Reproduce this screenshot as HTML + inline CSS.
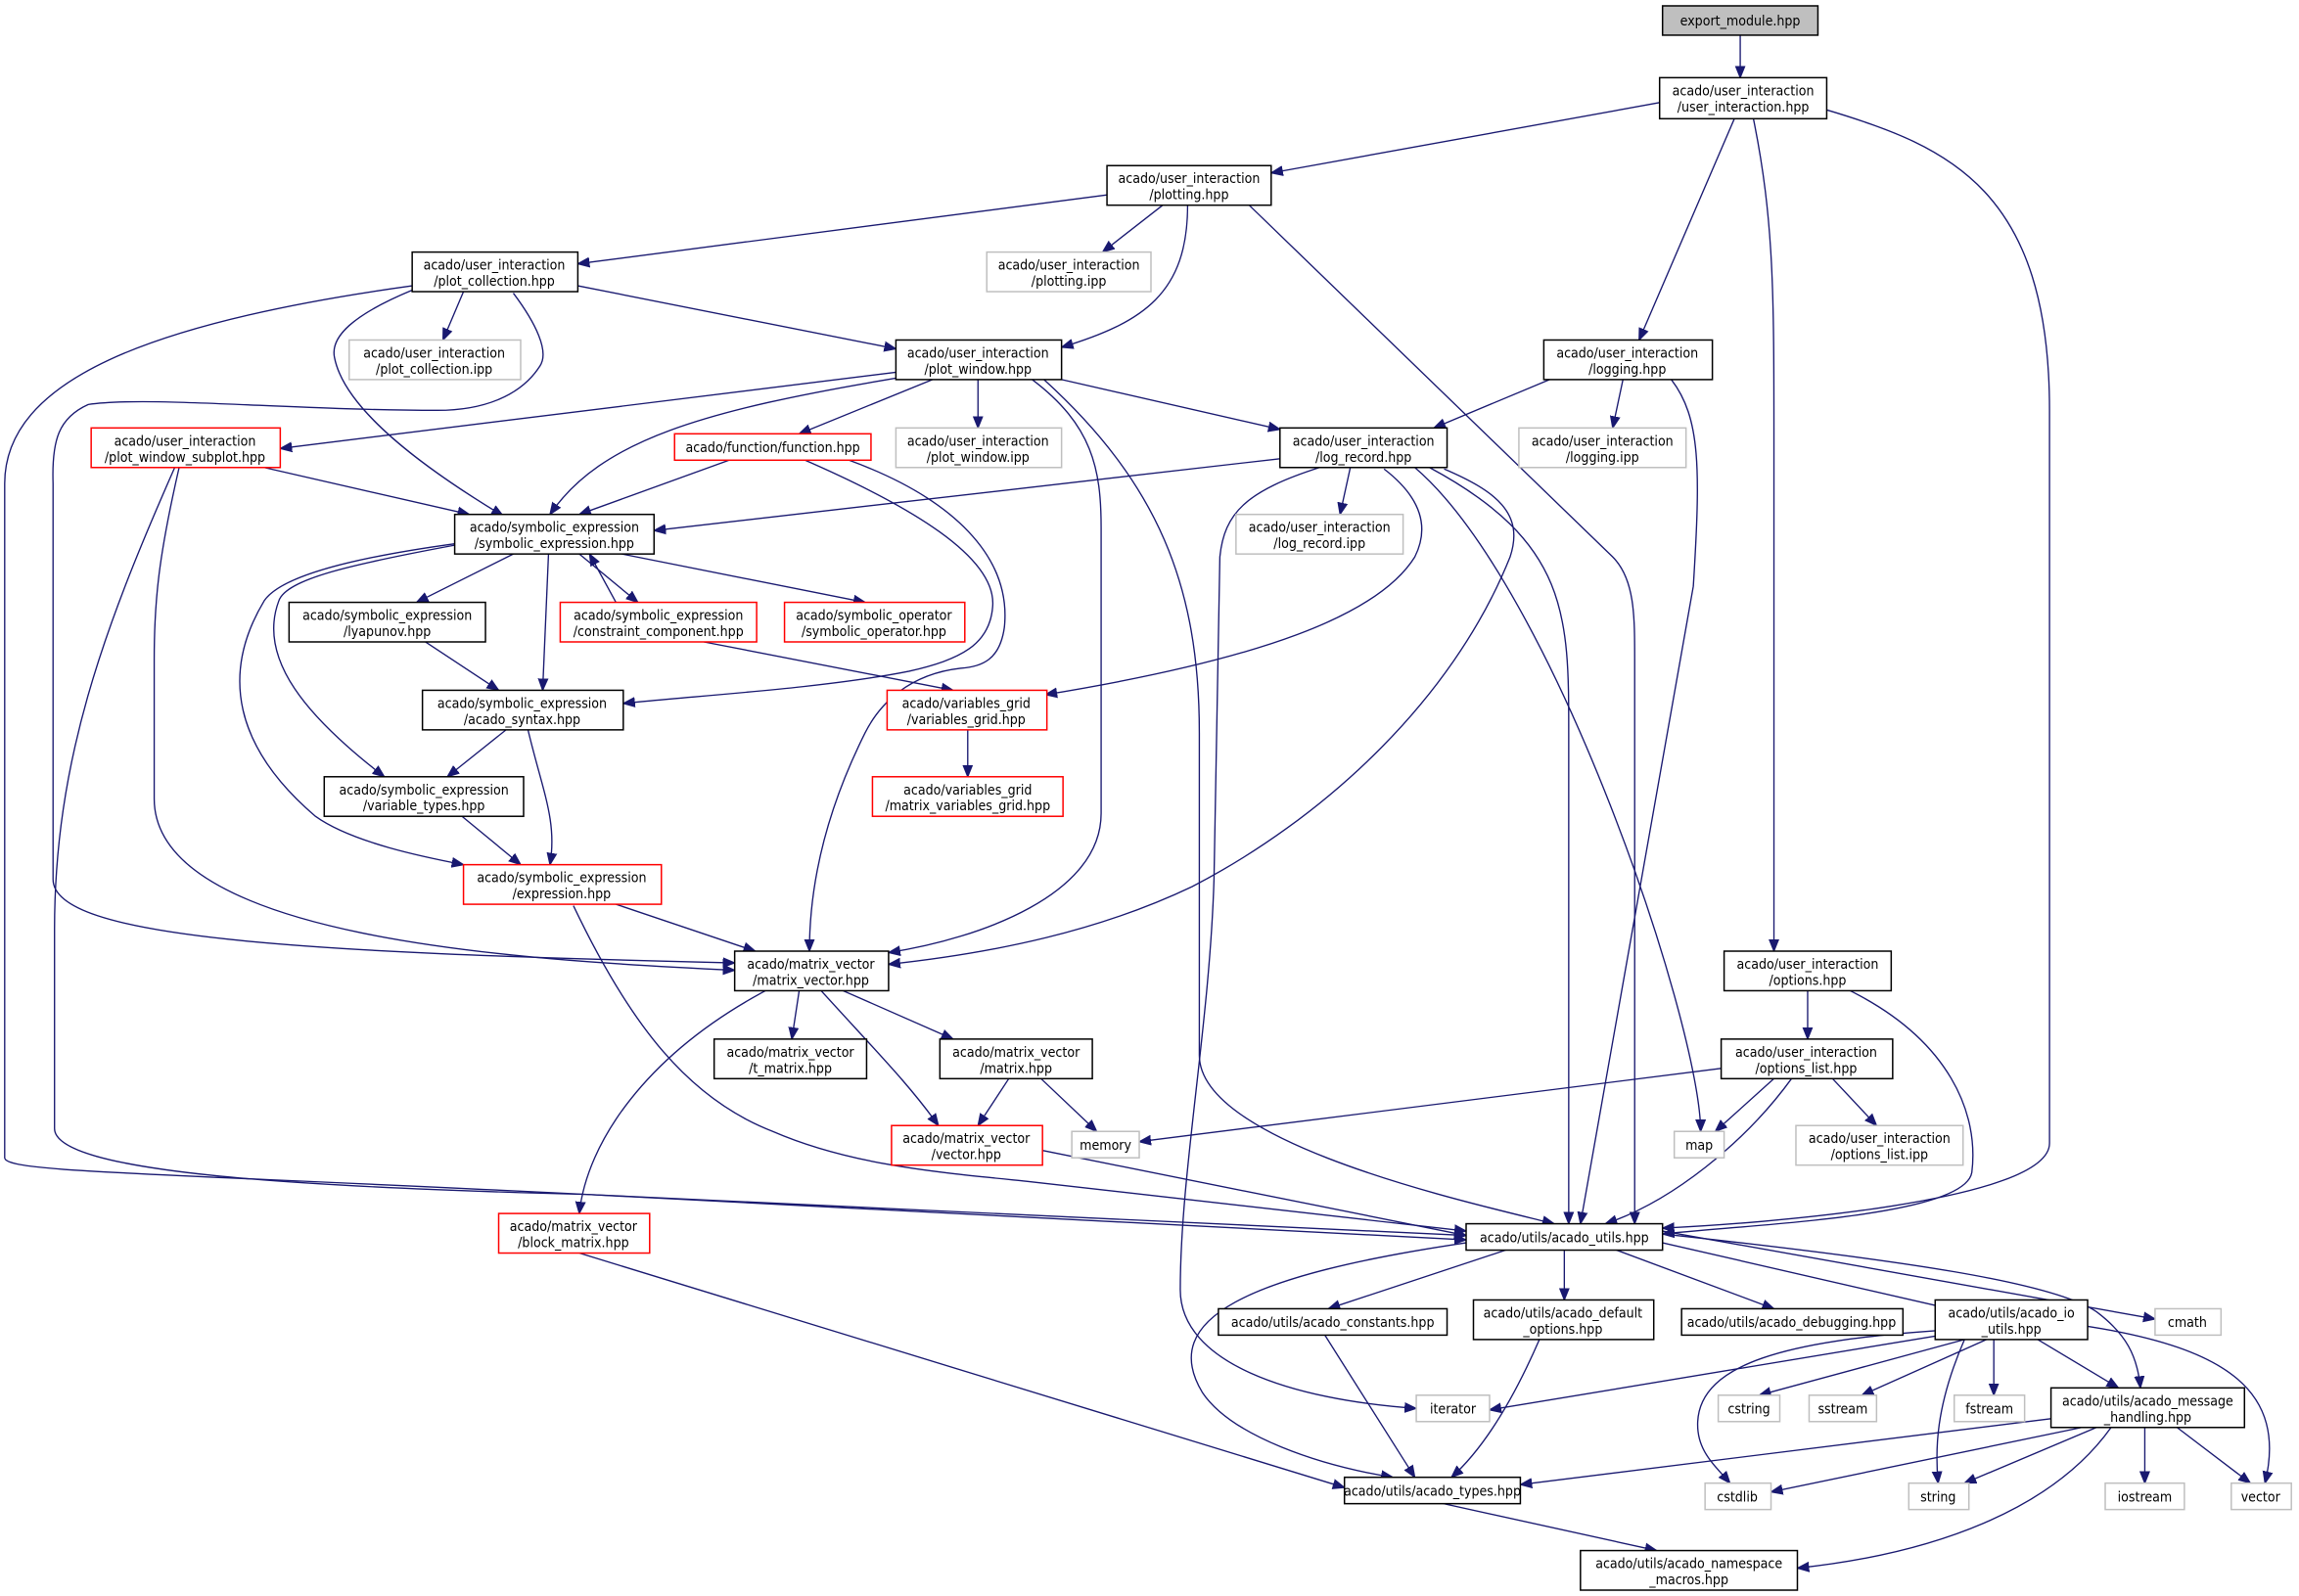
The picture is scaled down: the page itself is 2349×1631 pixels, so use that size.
<!DOCTYPE html>
<html><head><meta charset="utf-8"><style>
html,body{margin:0;padding:0;background:#fff;}
svg{display:block;}
text{font-family:"DejaVu Sans Condensed","DejaVu Sans","Liberation Sans",sans-serif;font-size:9.4px;text-anchor:middle;fill:#000;}
.n rect{fill:#fff;stroke:#000;stroke-width:1;}
.g rect{fill:#fff;stroke:#bfbfbf;stroke-width:1;}
.r rect{fill:#fff;stroke:#ff0000;stroke-width:1;}
.e path{fill:none;stroke:#191970;stroke-width:0.9;marker-end:url(#a);}
</style></head><body>
<svg width="2349" height="1631" viewBox="0 0 1568 1089" xmlns="http://www.w3.org/2000/svg">
<defs><marker id="a" viewBox="0 0 10 10" refX="10" refY="5" markerWidth="8" markerHeight="8" markerUnits="userSpaceOnUse" orient="auto"><path d="M0,1 L10,5 L0,9 z" fill="#191970" stroke="#191970"/></marker></defs>
<g class="e">
<path d="M1187,24 L1187,53"/>
<path d="M1132,70 L867,118"/>
<path d="M1183,81 L1118,232"/>
<path d="M1196,81 C1210,150 1210,200 1210,300 L1210,649"/>
<path d="M1246,75 C1330,100 1398,130 1398,280 L1398,780 C1398,820 1200,835 1134,838"/>
<path d="M755,133 L394,180"/>
<path d="M793,140 L752,172"/>
<path d="M810,140 C810,200 780,220 724,237"/>
<path d="M852,140 L1100,380 C1115,395 1115,420 1115,450 L1115,835"/>
<path d="M316,199 L302,232"/>
<path d="M394,195 L611,238"/>
<path d="M281,198 C240,215 225,230 228,244 C235,280 290,320 343,352"/>
<path d="M350,200 C365,220 375,240 368,250 C355,270 330,280 298,280 C200,280 100,270 60,276 C40,285 35,300 36,330 L36,600 C36,640 200,650 501,657"/>
<path d="M281,195 C100,220 3,260 3,330 L3,790 C3,800 100,800 400,815 L1000,843"/>
<path d="M611,254 L191,306"/>
<path d="M611,258 C480,280 410,300 375,351"/>
<path d="M636,259 L545,296"/>
<path d="M667,259 L667,292"/>
<path d="M724,259 L873,293"/>
<path d="M704,259 C745,290 751,320 751,360 L751,555 C751,610 670,640 606,650"/>
<path d="M712,259 C790,330 818,400 818,500 L818,720 C818,780 1000,820 1060,835"/>
<path d="M1057,259 L978,292"/>
<path d="M1107,259 L1100,292"/>
<path d="M1140,259 C1160,285 1160,320 1155,400 L1078,835"/>
<path d="M180,319 L320,351"/>
<path d="M122,319 C108,380 105,410 105,450 L105,545 C105,640 350,655 501,662"/>
<path d="M119,319 C70,430 37,520 37,634 L37,770 C37,800 200,810 400,815 L1000,846"/>
<path d="M500,313 L395,351"/>
<path d="M549,314 C620,345 680,380 677,414 C675,440 655,450 620,458 C560,470 470,475 425,480"/>
<path d="M579,314 C650,340 690,380 685,428 C682,450 670,455 655,456 C620,460 600,480 590,500 C560,560 552,610 552,649"/>
<path d="M873,313 L446,362"/>
<path d="M921,319 L914,351"/>
<path d="M944,320 C970,340 975,360 965,380 C940,420 860,450 713,474"/>
<path d="M985,320 C1020,335 1040,350 1030,380 C990,480 900,560 813,605 C750,635 680,650 606,658"/>
<path d="M975,319 C1070,370 1070,420 1070,500 L1070,835"/>
<path d="M965,319 C1060,400 1160,700 1160,772"/>
<path d="M900,319 C850,335 835,350 832,380 L828,600 C825,700 805,800 805,880 C805,930 880,955 966,961"/>
<path d="M350,378 L284,411"/>
<path d="M395,378 L435,411"/>
<path d="M420,411 L402,378"/>
<path d="M424,378 L590,411"/>
<path d="M374,378 L370,471"/>
<path d="M310,372 C240,385 195,395 190,410 C175,450 210,490 262,530"/>
<path d="M310,371 C230,382 190,395 180,410 C150,460 160,510 215,557 C240,575 290,585 316,590"/>
<path d="M290,438 L340,471"/>
<path d="M480,438 L650,471"/>
<path d="M345,498 L305,530"/>
<path d="M360,498 C370,540 380,560 375,590"/>
<path d="M660,498 L660,530"/>
<path d="M315,557 L355,590"/>
<path d="M420,617 L515,649"/>
<path d="M391,618 C430,700 470,750 527,772 C580,795 640,800 700,806 L1000,840"/>
<path d="M545,676 L540,709"/>
<path d="M575,676 L650,709"/>
<path d="M560,676 C600,720 620,740 640,768"/>
<path d="M522,676 C440,720 400,780 395,828"/>
<path d="M688,736 L667,768"/>
<path d="M710,736 L748,772"/>
<path d="M711,785 L1000,843"/>
<path d="M1233,676 L1233,709"/>
<path d="M1262,676 C1330,710 1350,760 1345,800 C1340,830 1200,835 1134,842"/>
<path d="M1174,729 L777,779"/>
<path d="M1210,736 L1170,772"/>
<path d="M1250,736 L1280,768"/>
<path d="M1222,736 C1190,780 1140,820 1095,835"/>
<path d="M395,855 L917,1015"/>
<path d="M1134,840 L1470,900"/>
<path d="M1030,852 L906,893"/>
<path d="M1067,852 L1067,887"/>
<path d="M1100,852 L1210,893"/>
<path d="M1134,848 L1330,893"/>
<path d="M1134,842 C1300,860 1400,875 1430,895 C1450,910 1458,925 1460,947"/>
<path d="M1000,848 C850,870 790,900 820,950 C840,980 900,1000 950,1008"/>
<path d="M903,910 L965,1008"/>
<path d="M1050,914 C1030,960 1010,990 990,1008"/>
<path d="M1330,910 L1016,962"/>
<path d="M1340,914 L1200,952"/>
<path d="M1355,914 L1270,952"/>
<path d="M1360,914 L1360,952"/>
<path d="M1390,914 L1445,947"/>
<path d="M1320,908 C1220,915 1160,930 1158,970 C1157,990 1170,1000 1180,1012"/>
<path d="M1340,914 C1320,960 1320,990 1322,1012"/>
<path d="M1424,905 C1520,920 1560,950 1545,1012"/>
<path d="M1399,968 L1037,1013"/>
<path d="M1420,974 L1208,1018"/>
<path d="M1430,974 L1340,1012"/>
<path d="M1463,974 L1463,1012"/>
<path d="M1485,974 L1535,1012"/>
<path d="M1440,974 C1400,1030 1320,1060 1226,1070"/>
<path d="M980,1025 L1130,1058"/>
</g>

<g class="n"><rect x="1134" y="4" width="106" height="20" style="fill:#bfbfbf"/><text x="1187" y="17.5">export_module.hpp</text></g>
<g class="n"><rect x="1132" y="53" width="114" height="28"/><text x="1189" y="65">acado/user_interaction</text><text x="1189" y="76">/user_interaction.hpp</text></g>
<g class="n"><rect x="755" y="113" width="112" height="27"/><text x="811" y="125">acado/user_interaction</text><text x="811" y="136">/plotting.hpp</text></g>
<g class="g"><rect x="673" y="172" width="112" height="27"/><text x="729" y="184">acado/user_interaction</text><text x="729" y="195">/plotting.ipp</text></g>
<g class="n"><rect x="281" y="172" width="113" height="27"/><text x="337" y="184">acado/user_interaction</text><text x="337" y="195">/plot_collection.hpp</text></g>
<g class="g"><rect x="238" y="232" width="117" height="27"/><text x="296" y="244">acado/user_interaction</text><text x="296" y="255">/plot_collection.ipp</text></g>
<g class="n"><rect x="611" y="232" width="113" height="27"/><text x="667" y="244">acado/user_interaction</text><text x="667" y="255">/plot_window.hpp</text></g>
<g class="n"><rect x="1053" y="232" width="115" height="27"/><text x="1110" y="244">acado/user_interaction</text><text x="1110" y="255">/logging.hpp</text></g>
<g class="r"><rect x="62" y="292" width="129" height="27"/><text x="126" y="304">acado/user_interaction</text><text x="126" y="315">/plot_window_subplot.hpp</text></g>
<g class="r"><rect x="460" y="296" width="134" height="18"/><text x="527" y="308.5">acado/function/function.hpp</text></g>
<g class="g"><rect x="611" y="292" width="113" height="27"/><text x="667" y="304">acado/user_interaction</text><text x="667" y="315">/plot_window.ipp</text></g>
<g class="n"><rect x="873" y="292" width="114" height="27"/><text x="930" y="304">acado/user_interaction</text><text x="930" y="315">/log_record.hpp</text></g>
<g class="g"><rect x="1036" y="292" width="114" height="27"/><text x="1093" y="304">acado/user_interaction</text><text x="1093" y="315">/logging.ipp</text></g>
<g class="n"><rect x="310" y="351" width="136" height="27"/><text x="378" y="363">acado/symbolic_expression</text><text x="378" y="374">/symbolic_expression.hpp</text></g>
<g class="g"><rect x="843" y="351" width="114" height="27"/><text x="900" y="363">acado/user_interaction</text><text x="900" y="374">/log_record.ipp</text></g>
<g class="n"><rect x="197" y="411" width="134" height="27"/><text x="264" y="423">acado/symbolic_expression</text><text x="264" y="434">/lyapunov.hpp</text></g>
<g class="r"><rect x="382" y="411" width="134" height="27"/><text x="449" y="423">acado/symbolic_expression</text><text x="449" y="434">/constraint_component.hpp</text></g>
<g class="r"><rect x="535" y="411" width="123" height="27"/><text x="596" y="423">acado/symbolic_operator</text><text x="596" y="434">/symbolic_operator.hpp</text></g>
<g class="n"><rect x="288" y="471" width="137" height="27"/><text x="356" y="483">acado/symbolic_expression</text><text x="356" y="494">/acado_syntax.hpp</text></g>
<g class="r"><rect x="605" y="471" width="109" height="27"/><text x="659" y="483">acado/variables_grid</text><text x="659" y="494">/variables_grid.hpp</text></g>
<g class="n"><rect x="221" y="530" width="136" height="27"/><text x="289" y="542">acado/symbolic_expression</text><text x="289" y="553">/variable_types.hpp</text></g>
<g class="r"><rect x="595" y="530" width="130" height="27"/><text x="660" y="542">acado/variables_grid</text><text x="660" y="553">/matrix_variables_grid.hpp</text></g>
<g class="r"><rect x="316" y="590" width="135" height="27"/><text x="383" y="602">acado/symbolic_expression</text><text x="383" y="613">/expression.hpp</text></g>
<g class="n"><rect x="501" y="649" width="105" height="27"/><text x="553" y="661">acado/matrix_vector</text><text x="553" y="672">/matrix_vector.hpp</text></g>
<g class="n"><rect x="1176" y="649" width="114" height="27"/><text x="1233" y="661">acado/user_interaction</text><text x="1233" y="672">/options.hpp</text></g>
<g class="n"><rect x="487" y="709" width="104" height="27"/><text x="539" y="721">acado/matrix_vector</text><text x="539" y="732">/t_matrix.hpp</text></g>
<g class="n"><rect x="641" y="709" width="104" height="27"/><text x="693" y="721">acado/matrix_vector</text><text x="693" y="732">/matrix.hpp</text></g>
<g class="n"><rect x="1174" y="709" width="117" height="27"/><text x="1232" y="721">acado/user_interaction</text><text x="1232" y="732">/options_list.hpp</text></g>
<g class="r"><rect x="608" y="768" width="103" height="27"/><text x="659" y="780">acado/matrix_vector</text><text x="659" y="791">/vector.hpp</text></g>
<g class="g"><rect x="731" y="772" width="46" height="18"/><text x="754" y="784.5">memory</text></g>
<g class="g"><rect x="1142" y="772" width="34" height="18"/><text x="1159" y="784.5">map</text></g>
<g class="g"><rect x="1225" y="768" width="114" height="27"/><text x="1282" y="780">acado/user_interaction</text><text x="1282" y="791">/options_list.ipp</text></g>
<g class="r"><rect x="340" y="828" width="103" height="27"/><text x="391" y="840">acado/matrix_vector</text><text x="391" y="851">/block_matrix.hpp</text></g>
<g class="n"><rect x="1000" y="835" width="134" height="18"/><text x="1067" y="847.5">acado/utils/acado_utils.hpp</text></g>
<g class="g"><rect x="1470" y="893" width="45" height="18"/><text x="1492" y="905.5">cmath</text></g>
<g class="n"><rect x="831" y="893" width="156" height="18"/><text x="909" y="905.5">acado/utils/acado_constants.hpp</text></g>
<g class="n"><rect x="1005" y="887" width="123" height="27"/><text x="1066" y="899">acado/utils/acado_default</text><text x="1066" y="910">_options.hpp</text></g>
<g class="n"><rect x="1147" y="893" width="151" height="18"/><text x="1222" y="905.5">acado/utils/acado_debugging.hpp</text></g>
<g class="n"><rect x="1320" y="887" width="104" height="27"/><text x="1372" y="899">acado/utils/acado_io</text><text x="1372" y="910">_utils.hpp</text></g>
<g class="g"><rect x="966" y="952" width="50" height="18"/><text x="991" y="964.5">iterator</text></g>
<g class="g"><rect x="1172" y="952" width="42" height="18"/><text x="1193" y="964.5">cstring</text></g>
<g class="g"><rect x="1234" y="952" width="46" height="18"/><text x="1257" y="964.5">sstream</text></g>
<g class="g"><rect x="1333" y="952" width="48" height="18"/><text x="1357" y="964.5">fstream</text></g>
<g class="n"><rect x="1399" y="947" width="132" height="27"/><text x="1465" y="959">acado/utils/acado_message</text><text x="1465" y="970">_handling.hpp</text></g>
<g class="g"><rect x="1163" y="1012" width="45" height="18"/><text x="1185" y="1024.5">cstdlib</text></g>
<g class="g"><rect x="1302" y="1012" width="41" height="18"/><text x="1322" y="1024.5">string</text></g>
<g class="g"><rect x="1436" y="1012" width="54" height="18"/><text x="1463" y="1024.5">iostream</text></g>
<g class="g"><rect x="1522" y="1012" width="41" height="18"/><text x="1542" y="1024.5">vector</text></g>
<g class="n"><rect x="917" y="1008" width="120" height="18"/><text x="977" y="1020.5">acado/utils/acado_types.hpp</text></g>
<g class="n"><rect x="1078" y="1058" width="148" height="27"/><text x="1152" y="1070">acado/utils/acado_namespace</text><text x="1152" y="1081">_macros.hpp</text></g>
</svg>
</body></html>
